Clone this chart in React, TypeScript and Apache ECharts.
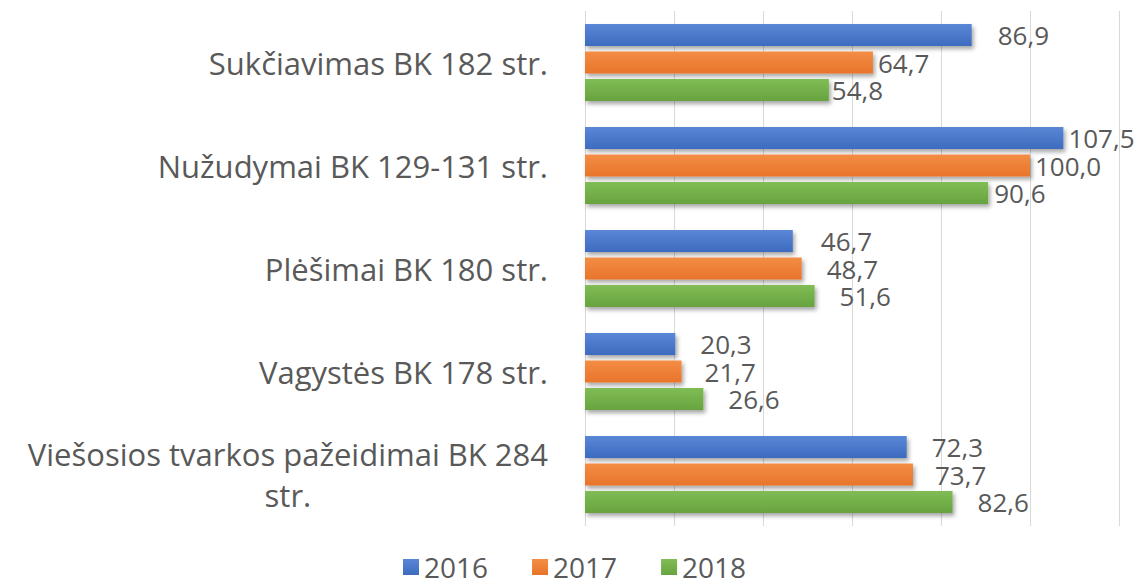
import React, { useEffect, useRef } from "react";
import * as echarts from "echarts";

const categories = [
  "Sukčiavimas BK 182 str.",
  "Nužudymai BK 129-131 str.",
  "Plėšimai BK 180 str.",
  "Vagystės BK 178 str.",
  "Viešosios tvarkos pažeidimai BK 284 str.",
];
const years = ["2016", "2017", "2018"];
const values2016 = [86.9, 107.5, 46.7, 20.3, 72.3];
const values2017 = [64.7, 100.0, 48.7, 21.7, 73.7];
const values2018 = [54.8, 90.6, 51.6, 26.6, 82.6];

const seriesValues = [values2016, values2017, values2018];
const colors = [
  ["#5a87d6", "#3d6bbf"],
  ["#f48d45", "#e8742a"],
  ["#80bd55", "#67a33f"],
];
// label spacing per series / category (style only)
const labelGaps = [
  [26, 5, 28, 25, 25],
  [5, 5, 25, 23, 22],
  [3, 6, 25, 25, 25],
];

const FONT = "'Open Sans', sans-serif";
const TEXT = "#595959";

function wrapLabel(s: string): string {
  if (s.length <= 30) return `{c|${s}}`;
  const i = s.lastIndexOf(" ");
  return `{c|${s.slice(0, i)}}\n{c|${s.slice(i + 1)}}`;
}

export default function App() {
  const ref = useRef<HTMLDivElement>(null);
  useEffect(() => {
    if (!ref.current) return;
    const chart = echarts.init(ref.current, null, { renderer: "svg" });
    chart.setOption({
      animation: false,
      backgroundColor: "#ffffff",
      textStyle: { fontFamily: FONT },
      grid: { left: 585, right: 29, top: 11, bottom: 60 },
      legend: {
        data: years,
        bottom: 0,
        left: 398,
        icon: "rect",
        itemWidth: 16,
        itemHeight: 16,
        itemGap: 44,
        textStyle: { fontFamily: FONT, fontSize: 28, color: TEXT },
      },
      xAxis: {
        type: "value",
        min: 0,
        max: 120,
        interval: 20,
        axisLabel: { show: false },
        axisLine: { show: false },
        axisTick: { show: false },
        splitLine: { show: true, lineStyle: { color: "#d9d9d9", width: 1 } },
      },
      yAxis: {
        type: "category",
        data: categories,
        inverse: true,
        axisLine: { show: false },
        axisTick: { show: false },
        axisLabel: {
          margin: 37,
          formatter: (v: string) => wrapLabel(v),
          rich: {
            c: {
              fontFamily: FONT,
              fontSize: 31,
              color: TEXT,
              align: "center",
              lineHeight: 41,
            },
          },
        },
      },
      series: years.map((y, si) => ({
        name: y,
        type: "bar",
        barWidth: 22,
        barGap: "25%",
        itemStyle: {
          color: new echarts.graphic.LinearGradient(0, 0, 0, 1, [
            { offset: 0, color: colors[si][0] },
            { offset: 1, color: colors[si][1] },
          ]),
          shadowColor: "rgba(0,0,0,0.35)",
          shadowBlur: 4,
          shadowOffsetX: 2,
          shadowOffsetY: 3,
        },
        label: {
          show: true,
          position: "right",
          fontFamily: FONT,
          fontSize: 26,
          lineHeight: 24,
          color: TEXT,
          formatter: (p: any) => Number(p.value).toFixed(1).replace(".", ","),
        },
        data: seriesValues[si].map((v, ci) => ({
          value: v,
          label: { distance: labelGaps[si][ci] },
        })),
      })),
    });
    return () => chart.dispose();
  }, []);
  return (
    <div
      ref={ref}
      style={{ position: "fixed", left: 0, top: 0, width: 1148, height: 586 }}
    />
  );
}
